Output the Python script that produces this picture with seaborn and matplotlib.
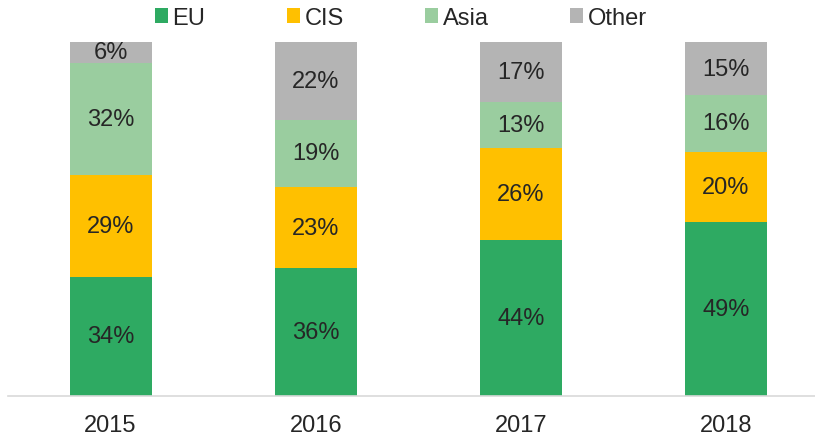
import matplotlib
matplotlib.use('Agg')
import matplotlib.pyplot as plt
import numpy as np
import pandas as pd
import seaborn as sns
from matplotlib.patches import Patch

# Data (share of total, %)
years = ['2015', '2016', '2017', '2018']
eu = [34, 36, 44, 49]
cis = [29, 23, 26, 20]
asia = [32, 19, 13, 16]
other = [6, 22, 17, 15]

series = ['EU', 'CIS', 'Asia', 'Other']
colors = {'EU': '#2EAA62', 'CIS': '#FFC000', 'Asia': '#9ACD9F', 'Other': '#B4B4B4'}

df = pd.DataFrame({'year': years, 'EU': eu, 'CIS': cis, 'Asia': asia, 'Other': other})
# bars are 100% stacked, so normalise each year to its total
share = df[series].div(df[series].sum(axis=1), axis=0) * 100
cum = share.cumsum(axis=1)

sns.set_style('white')
plt.rcParams['font.family'] = ['Liberation Sans', 'DejaVu Sans']
text_color = '#262626'

fig = plt.figure(figsize=(8.15, 4.39), dpi=100)
ax = fig.add_axes([8 / 815, 42.5 / 439, 807 / 815, 353.5 / 439])

# stacked bars: draw the cumulative totals from the top down
for s in reversed(series):
    sns.barplot(x=df['year'], y=cum[s], color=colors[s], width=0.4,
                saturation=1, ax=ax, linewidth=0)

# segment labels
for i in range(len(years)):
    base = 0
    for s in series:
        v = share.loc[i, s]
        ax.text(i, base + v / 2, f'{df.loc[i, s]}%', ha='center', va='center',
                fontsize=17, color=text_color)
        base += v

ax.set_xlim(-0.5, 3.434)
ax.set_ylim(0, 100)
ax.set_xlabel('')
ax.set_ylabel('')
ax.set_yticks([])
for side in ['top', 'right', 'left']:
    ax.spines[side].set_visible(False)
ax.spines['bottom'].set_color('#D9D9D9')
ax.spines['bottom'].set_linewidth(1.2)
ax.tick_params(axis='x', length=0, pad=13, labelsize=17, labelcolor=text_color)

handles = [Patch(facecolor=colors[s], edgecolor='none', label=s) for s in series]
fig.legend(handles=handles, loc='center', bbox_to_anchor=(0.492, 0.957), ncol=4,
           frameon=False, fontsize=17, handlelength=0.55, handleheight=0.55,
           handletextpad=0.2, columnspacing=3.45, labelcolor=text_color,
           borderpad=0)

fig.savefig('out.png', dpi=100)
